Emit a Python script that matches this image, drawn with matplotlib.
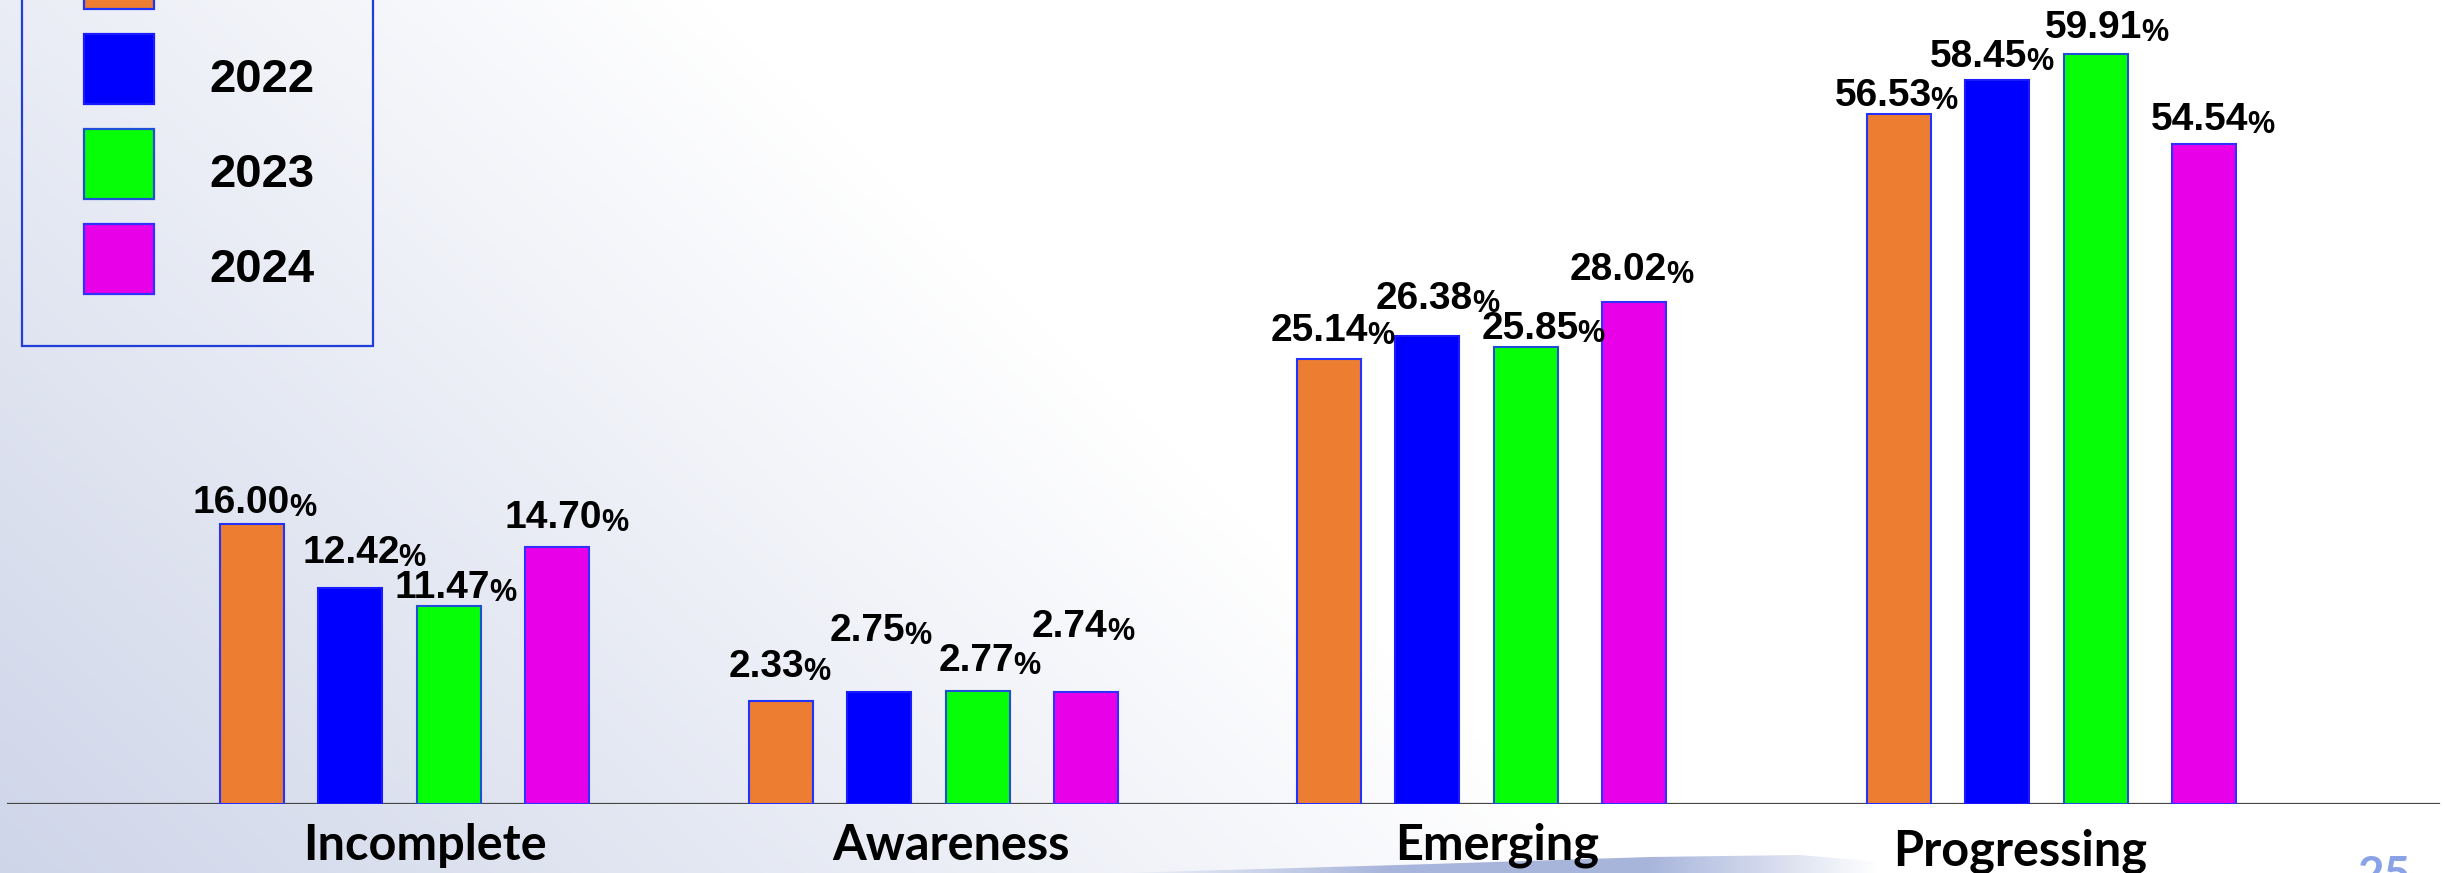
import numpy as np
import matplotlib
matplotlib.use("Agg")
import matplotlib.pyplot as plt
from matplotlib.patches import Rectangle, Polygon

W, H = 2445, 873
DPI = 100

# ---------------- data ----------------
categories = ["Incomplete", "Awareness", "Emerging", "Progressing"]
years = ["2021", "2022", "2023", "2024"]
v2021 = [16.00, 2.33, 25.14, 56.53]
v2022 = [12.42, 2.75, 26.38, 58.45]
v2023 = [11.47, 2.77, 25.85, 59.91]
v2024 = [14.70, 2.74, 28.02, 54.54]
series = [v2021, v2022, v2023, v2024]

# ---------------- style / layout ----------------
colors = ["#ED7D31", "#0000FF", "#06FF06", "#E800E8"]
edgecolors = ["#2233ff", "#1a1aff", "#1f4fd6", "#3030ff"]

group_x = [401.6, 931, 1479, 2048.5]       # group centres (px)
bar_offsets = [-150, -52, 47, 155]         # bar offset inside a group (px)
bar_w = 64
baseline_px = 804
# the reference's uneven value axis (value -> px above baseline)
scale_vals = [0, 2.5, 11, 26, 28.5, 55, 60, 70]
scale_px = [0, 110, 190, 460, 512, 663, 752, 920]

# value label placement (px): left edge relative to bar centre, baseline above bar top
label_dx = [[-59, -52.5, -58.5, -64],
            [-47.5, -49.5, -51, -67],
            [-54, -39.5, -44.5, -50.5],
            [-52, -54, -64, -52.5]]
label_dy = [[11, 24, 18, 8],
            [25, 51, 27, 13],
            [8, 20, 8, 16],
            [19, 55, 22, 14]]
cat_dx = [23, 20, 18, -28]
cat_base = [860, 860, 860, 865]

VAL_FONT = "Liberation Sans"
CAT_FONT = "Lato"

fig = plt.figure(figsize=(W / DPI, H / DPI), dpi=DPI)

# ---------------- background (pixel coordinates) ----------------
bg = fig.add_axes([0, 0, 1, 1])
bg.set_xlim(0, W)
bg.set_ylim(H, 0)
bg.axis("off")
xx, yy = np.meshgrid(np.arange(W), np.arange(H))
t = np.clip(0.42 - 0.0006 * xx + 0.55 * yy / H, 0, 1)[..., None]
dark = np.array([205, 212, 232]) / 255.0
white = np.array([1.0, 1.0, 1.0])
img = white * (1 - t) + dark * t
bg.imshow(img, extent=(0, W, H, 0), aspect="auto", zorder=0)

# bottom swoosh
poly = Polygon([(1120, H), (1400, 865), (1650, 857), (1800, 855), (1880, 862), (1880, H)],
               closed=True, facecolor="none", edgecolor="none")
bg.add_patch(poly)
gx = np.linspace(0, 1, 400)
alpha = np.clip(np.minimum((gx - 0.0) / 0.35, (1 - gx) / 0.3), 0, 1) * 0.8
grad = np.zeros((1, 400, 4))
grad[..., 0] = 0.58
grad[..., 1] = 0.64
grad[..., 2] = 0.83
grad[..., 3] = alpha
im = bg.imshow(grad, extent=(1120, 1880, H, 850), aspect="auto", zorder=1)
im.set_clip_path(poly)

# legend (top part cut off, as in the reference)
bg.add_patch(Rectangle((22, -20), 351, 366, facecolor="none", edgecolor="#1f3fd8",
                       linewidth=1.6, zorder=3))
for i, yr in enumerate(years):
    top = -61 + 95 * i
    bg.add_patch(Rectangle((84, top), 70, 70, facecolor=colors[i], edgecolor=edgecolors[i],
                           linewidth=1.6, zorder=3))
    bg.text(209, top + 58, yr, fontsize=34, fontweight="bold", family=VAL_FONT,
            va="baseline", ha="left", color="black", zorder=4)

# category labels
for g, cat in enumerate(categories):
    bg.text(group_x[g] + cat_dx[g], cat_base[g], cat, fontsize=35, fontweight="bold",
            family=CAT_FONT, ha="center", va="baseline", color="black", zorder=4)

# page number
bg.text(2384, 889, "25", fontsize=33, fontweight="bold", family=CAT_FONT,
        ha="center", va="baseline", color="#8aa2e6", zorder=4)

# ---------------- chart ----------------
ax = fig.add_axes([0, (H - baseline_px) / H, 1, baseline_px / H])
ax.patch.set_alpha(0)
sv = np.array(scale_vals, float)
sp = np.array(scale_px, float)
fwd = lambda v: np.interp(v, sv, sp)
inv = lambda p: np.interp(p, sp, sv)
ax.set_yscale("function", functions=(fwd, inv))
ax.set_xlim(0, W)
ax.set_ylim(0, float(inv(baseline_px)))
ax.axis("off")

ax.axhline(0, xmin=8 / W, xmax=2439 / W, color="#454545", linewidth=1.6, zorder=1.5)

for s, vals in enumerate(series):
    xs = [group_x[g] + bar_offsets[s] for g in range(len(categories))]
    ax.bar(xs, vals, width=bar_w, color=colors[s], edgecolor=edgecolors[s],
           linewidth=1.5, zorder=2)
    for g, v in enumerate(vals):
        num = ax.annotate(f"{v:.2f}", xy=(xs[g], v), xytext=(label_dx[s][g], label_dy[s][g]),
                          textcoords="offset pixels", ha="left", va="baseline",
                          fontsize=28, fontweight="bold", family=VAL_FONT, color="black",
                          zorder=5, annotation_clip=False)
        ax.annotate("%", xy=(1, 0), xycoords=num, xytext=(-1, -2), textcoords="offset pixels",
                    ha="left", va="bottom", fontsize=22, fontweight="bold", family=VAL_FONT,
                    color="black", zorder=5, annotation_clip=False)

fig.savefig("out.png", dpi=DPI)
